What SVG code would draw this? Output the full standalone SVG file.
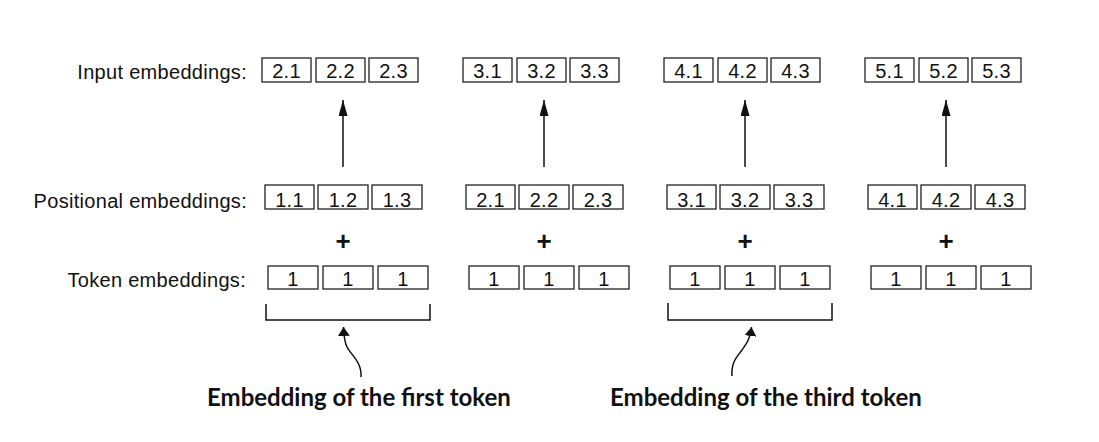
<svg xmlns="http://www.w3.org/2000/svg" width="1099" height="442" viewBox="0 0 1099 442">
<style>
.box{fill:#fff;stroke:#222;stroke-width:1.3}
.lbl{font-family:"Liberation Sans",Arial,sans-serif;font-size:20px;fill:#111;letter-spacing:0.3px}
.num{font-family:"Liberation Sans",Arial,sans-serif;font-size:20px;fill:#111;text-anchor:middle;letter-spacing:0.3px}
.plus{font-family:"Liberation Sans",Arial,sans-serif;font-size:26px;font-weight:bold;fill:#111;text-anchor:middle}
.cap{font-family:Lato,"Open Sans",sans-serif;font-weight:bold;font-size:24px;fill:#111}
.ln{fill:none;stroke:#111;stroke-width:1.5}
</style>
<defs>
<marker id="ah" markerUnits="userSpaceOnUse" markerWidth="16" markerHeight="10" refX="16" refY="4.5" orient="auto"><path d="M0,0 L16,4.5 L0,9 z" fill="#111"/></marker>
<marker id="ah2" markerUnits="userSpaceOnUse" markerWidth="10" markerHeight="12" refX="9" refY="6" orient="auto"><path d="M0,0 L9,6 L0,12 z" fill="#111"/></marker>
</defs>
<g id="labels">
<text class="lbl" x="247" y="79" text-anchor="end">Input embeddings:</text>
<text class="lbl" x="247" y="208" text-anchor="end">Positional embeddings:</text>
<text class="lbl" x="246" y="287" text-anchor="end">Token embeddings:</text>
</g>
<g id="token1">
<rect class="box" x="262" y="58" width="49" height="24"/><text class="num" x="286.5" y="78">2.1</text>
<rect class="box" x="316" y="58" width="49" height="24"/><text class="num" x="340.5" y="78">2.2</text>
<rect class="box" x="369" y="58" width="49" height="24"/><text class="num" x="393.5" y="78">2.3</text>
<rect class="box" x="265" y="185" width="49" height="24"/><text class="num" x="289.5" y="207">1.1</text>
<rect class="box" x="318" y="185" width="50" height="24"/><text class="num" x="343" y="207">1.2</text>
<rect class="box" x="372" y="185" width="50" height="24"/><text class="num" x="397" y="207">1.3</text>
<text class="plus" x="343" y="250">+</text>
<rect class="box" x="268" y="266" width="50" height="23"/><text class="num" x="293" y="286">1</text>
<rect class="box" x="323" y="266" width="50" height="23"/><text class="num" x="348" y="286">1</text>
<rect class="box" x="378" y="266" width="50" height="23"/><text class="num" x="403" y="286">1</text>
</g>
<g id="token2">
<rect class="box" x="463" y="58" width="49" height="24"/><text class="num" x="487.5" y="78">3.1</text>
<rect class="box" x="517" y="58" width="49" height="24"/><text class="num" x="541.5" y="78">3.2</text>
<rect class="box" x="570" y="58" width="49" height="24"/><text class="num" x="594.5" y="78">3.3</text>
<rect class="box" x="466" y="185" width="49" height="24"/><text class="num" x="490.5" y="207">2.1</text>
<rect class="box" x="519" y="185" width="50" height="24"/><text class="num" x="544" y="207">2.2</text>
<rect class="box" x="573" y="185" width="50" height="24"/><text class="num" x="598" y="207">2.3</text>
<text class="plus" x="544" y="250">+</text>
<rect class="box" x="469" y="266" width="50" height="23"/><text class="num" x="494" y="286">1</text>
<rect class="box" x="524" y="266" width="50" height="23"/><text class="num" x="549" y="286">1</text>
<rect class="box" x="579" y="266" width="50" height="23"/><text class="num" x="604" y="286">1</text>
</g>
<g id="token3">
<rect class="box" x="664" y="58" width="49" height="24"/><text class="num" x="688.5" y="78">4.1</text>
<rect class="box" x="718" y="58" width="49" height="24"/><text class="num" x="742.5" y="78">4.2</text>
<rect class="box" x="771" y="58" width="49" height="24"/><text class="num" x="795.5" y="78">4.3</text>
<rect class="box" x="667" y="185" width="49" height="24"/><text class="num" x="691.5" y="207">3.1</text>
<rect class="box" x="720" y="185" width="50" height="24"/><text class="num" x="745" y="207">3.2</text>
<rect class="box" x="774" y="185" width="50" height="24"/><text class="num" x="799" y="207">3.3</text>
<text class="plus" x="745" y="250">+</text>
<rect class="box" x="670" y="266" width="50" height="23"/><text class="num" x="695" y="286">1</text>
<rect class="box" x="725" y="266" width="50" height="23"/><text class="num" x="750" y="286">1</text>
<rect class="box" x="780" y="266" width="50" height="23"/><text class="num" x="805" y="286">1</text>
</g>
<g id="token4">
<rect class="box" x="865" y="58" width="49" height="24"/><text class="num" x="889.5" y="78">5.1</text>
<rect class="box" x="919" y="58" width="49" height="24"/><text class="num" x="943.5" y="78">5.2</text>
<rect class="box" x="972" y="58" width="49" height="24"/><text class="num" x="996.5" y="78">5.3</text>
<rect class="box" x="868" y="185" width="49" height="24"/><text class="num" x="892.5" y="207">4.1</text>
<rect class="box" x="921" y="185" width="50" height="24"/><text class="num" x="946" y="207">4.2</text>
<rect class="box" x="975" y="185" width="50" height="24"/><text class="num" x="1000" y="207">4.3</text>
<text class="plus" x="946" y="250">+</text>
<rect class="box" x="871" y="266" width="50" height="23"/><text class="num" x="896" y="286">1</text>
<rect class="box" x="926" y="266" width="50" height="23"/><text class="num" x="951" y="286">1</text>
<rect class="box" x="981" y="266" width="50" height="23"/><text class="num" x="1006" y="286">1</text>
</g>
<g id="connectors">
<line class="ln" x1="343" y1="167" x2="343" y2="100" marker-end="url(#ah)"/>
<line class="ln" x1="544" y1="167" x2="544" y2="100" marker-end="url(#ah)"/>
<line class="ln" x1="745" y1="167" x2="745" y2="100" marker-end="url(#ah)"/>
<line class="ln" x1="946" y1="167" x2="946" y2="100" marker-end="url(#ah)"/>
<path class="ln" d="M266,304 V320 H430 V304"/>
<path class="ln" d="M668,303 V320 H832 V303"/>
<path class="ln" stroke-width="1.2" d="M361,377 C362,362 351,355 347,347 C345,343 344,340 343.5,327" marker-end="url(#ah2)"/>
<path class="ln" stroke-width="1.2" d="M732,376 C731,362 737,357 742,350 C746,344 750,340 751.5,327" marker-end="url(#ah2)"/>
</g>
<g id="captions">
<text class="cap" x="207" y="406">Embedding of the first token</text>
<text class="cap" x="610" y="406">Embedding of the third token</text>
</g>
</svg>
